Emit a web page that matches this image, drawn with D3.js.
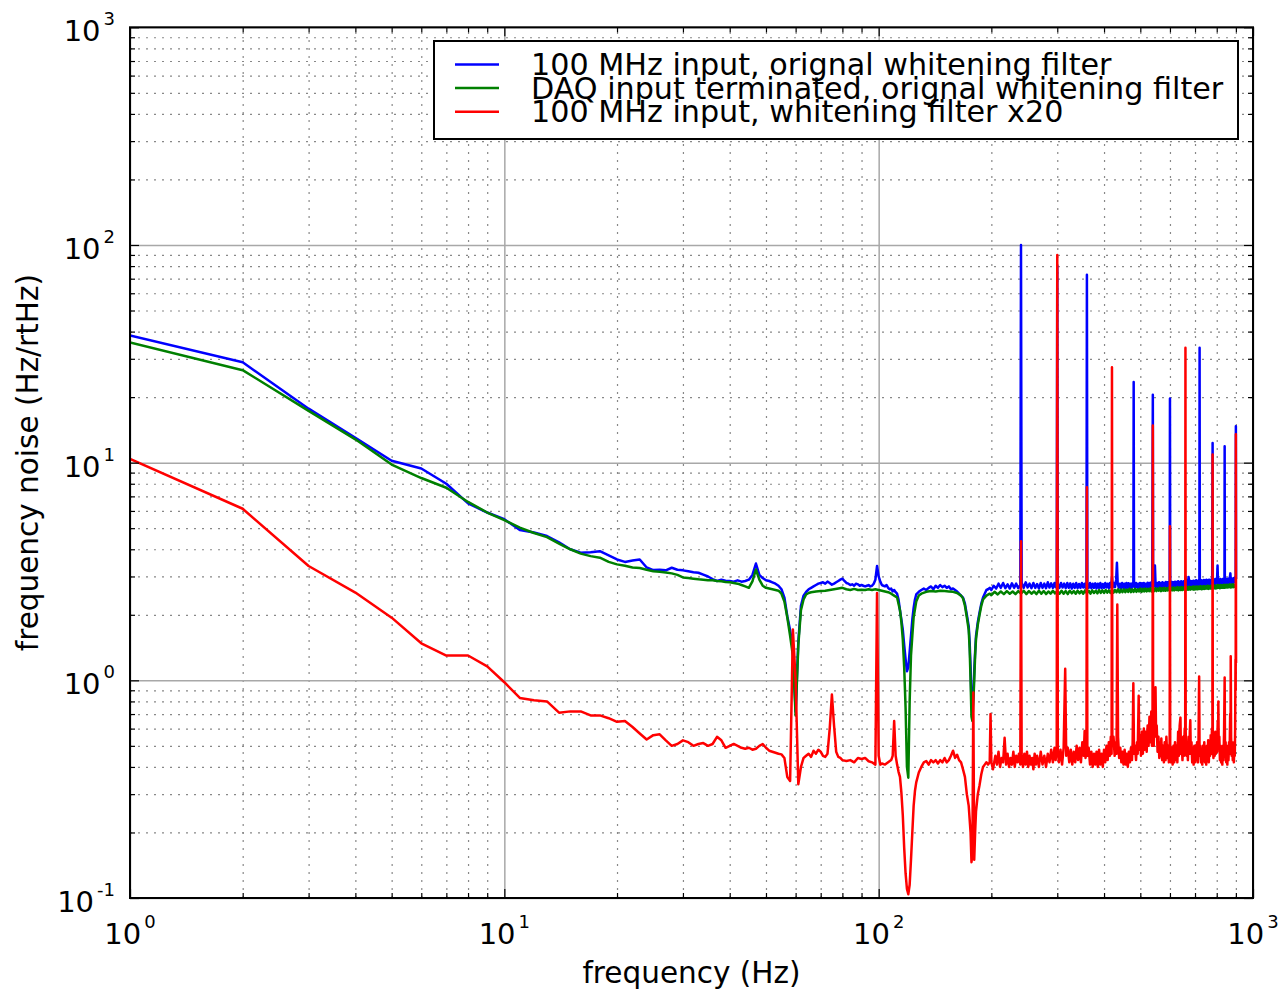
<!DOCTYPE html>
<html>
<head>
<meta charset="utf-8">
<script src="https://cdn.jsdelivr.net/npm/d3@7"></script>
<style>
  html, body { margin: 0; padding: 0; background: #ffffff; }
  svg { display: block; }
  text { font-family: "DejaVu Sans", sans-serif; fill: #000; }
</style>
</head>
<body>
<svg id="chart" width="1282" height="990"></svg>
<script>
// ---------- DATA ----------
const seriesNames = [
  "100 MHz input, orignal whitening filter",
  "DAQ input terminated, orignal whitening filter",
  "100 MHz input, whitening filter x20"
];
const seriesColors = ["#0000ff", "#008000", "#ff0000"];

const xTickExponents = [0, 1, 2, 3];
const yTickExponents = [-1, 0, 1, 2, 3];

// 100 MHz input, original whitening filter  [frequency Hz, noise Hz/rtHz]
const blueData = [
[1,38.4],[2,28.9],[3,17.7],[4,13.0],[5,10.2],[6,9.4],[7,8.0],[8,6.5],[9,5.9],[10,5.5],
[11,4.9],[12,4.78],[13,4.6],[14,4.3],[15,4.0],[16,3.86],[17,3.88],[18,3.92],[19,3.75],[20,3.59],
[21,3.5],[22,3.55],[23,3.59],[24,3.3],[25,3.21],[26,3.22],[27,3.2],[28,3.29],[29,3.22],[30,3.2],
[31,3.17],[32,3.14],[33,3.12],[34,3.06],[35,3.0],[36,2.92],[37,2.86],[38,2.9],[39,2.87],[40,2.86],
[41,2.84],[42,2.88],[43,2.84],[44,2.86],[45,2.9],[46,3.05],[47,3.44],[48,3.05],[49,2.95],[50,2.88],
[51,2.86],[52,2.82],[53,2.78],[54,2.72],[55,2.62],[56,2.4],[57,1.97],[58,1.7],[59,1.4],[60,0.72],
[61,1.5],[62,2.2],[63,2.45],[64,2.55],[65,2.62],[66,2.66],[67,2.7],[68,2.74],[69,2.78],[70,2.8],
[71,2.82],[72,2.78],[73,2.84],[74,2.8],[75,2.75],[76,2.78],[77,2.82],[78,2.86],[79,2.9],[80,2.93],
[81,2.86],[82,2.8],[83,2.78],[84,2.74],[85,2.76],[86,2.72],[87,2.78],[88,2.76],[89,2.72],[90,2.74],
[91,2.72],[92,2.7],[93,2.72],[94,2.74],[95,2.7],[96,2.72],[97,2.78],[98,2.9],[99,3.35],[100,3.0],
[101,2.84],[102,2.74],[103,2.72],[104,2.7],[105,2.74],[106,2.66],[107,2.62],[108,2.64],[109,2.56],[110,2.6],
[111,2.54],[112,2.5],[113,2.35],[114,2.1],[115,1.9],[116,1.71],[117,1.45],[118,1.25],[119,1.1],[120,1.15],
[121,1.35],[122,1.6],[123,1.9],[124,2.15],[125,2.35],[126,2.48],[128,2.55],[130,2.6],[132,2.64],[134,2.6],
[136,2.66],[138,2.7],[140,2.62],[142,2.72],[144,2.66],[146,2.74],[148,2.68],[150,2.72],[152,2.66],[154,2.7],
[156,2.62],[158,2.64],[160,2.6],[162,2.56],[164,2.5],[166,2.45],[168,2.4],[170,2.25],[172,2.0],[174,1.77],
[175,1.5],[176,1.15],[177,0.8],[178,0.7],[179,0.85],[180,1.1],[181,1.35],[182,1.6],[184,1.85],[186,2.05],
[188,2.25],[190,2.4],[192,2.5],[194,2.6],[196,2.62],[198,2.66],
[200,2.6],[203,2.72],[206,2.64],[209,2.78],[212,2.66],[215,2.8],[218,2.65],[221,2.76],[224,2.64],[227,2.79],
[230,2.66],[233,2.78],[236,2.65],[239,2.74],[240,100],[241,2.8],[244,2.66],[247,2.82],[250,2.67],[253,2.78],
[256,2.65],[259,2.8],[262,2.66],[265,2.77],[268,2.64],[271,2.8],[274,2.66],[277,2.78],[280,2.65],[283,2.82],
[286,2.67],[289,2.79],[292,2.66],[295,2.8],[297,2.68],[299,2.76],[300,80],[301,2.78],[304,2.66],[307,2.8],
[310,2.67],[313,2.78],[316,2.65],[319,2.8],[322,2.66],[325,2.79],[328,2.64],[331,2.78],[334,2.66],[337,2.8],
[340,2.65],[343,2.77],[346,2.66],[349,2.8],[352,2.67],[355,2.78],[357,2.66],[359,2.76],[360,73],[361,2.78],
[364,2.66],[367,2.8],[370,2.65],[373,2.78],[376,2.66],[379,2.79],[382,2.64],[385,2.78],[388,2.66],[391,2.8],
[394,2.65],[397,2.77],[400,2.66],[403,2.8],[406,2.67],[409,2.78],[412,2.65],[415,2.8],[418,2.67],[420,3.0],
[422,2.68],[425,2.8],[428,2.68],[431,2.9],[433,3.47],[435,2.8],[438,2.66],[441,2.78],[444,2.65],[447,2.8],
[450,2.66],[453,2.78],[456,2.64],[459,2.8],[462,2.66],[465,2.79],[468,2.65],[471,2.78],[474,2.66],[477,2.8],
[479,2.7],[480,23.5],[481,2.78],[484,2.66],[487,2.8],[490,2.67],[493,2.78],[496,2.65],[499,2.8],[502,2.66],
[505,2.79],[508,2.67],[511,2.8],[514,2.66],[517,2.78],[520,2.67],[523,2.81],[526,2.68],[529,2.8],[532,2.67],
[535,2.82],[538,2.7],[540,20.5],[541,2.8],[544,2.7],[547,3.37],[549,2.8],[552,2.68],[555,2.8],[558,2.67],
[561,2.82],[564,2.68],[567,2.8],[570,2.67],[573,2.82],[576,2.68],[579,2.8],[582,2.7],[585,2.83],[588,2.68],
[591,2.82],[594,2.7],[597,2.83],[599,2.72],[600,19.7],[601,2.8],[604,2.69],[607,2.83],[610,2.7],[613,2.82],
[616,2.69],[619,2.84],[622,2.7],[625,2.83],[628,2.71],[631,2.85],[634,2.7],[637,2.83],[640,2.71],[643,2.85],
[646,2.7],[649,2.84],[652,2.71],[655,2.86],[658,2.72],[660,3.0],[662,2.73],[665,2.86],[668,2.72],[671,2.88],
[673,2.98],[675,2.85],[678,2.72],[681,2.86],[684,2.71],[687,2.85],[690,2.72],[693,2.87],[696,2.73],[699,2.86],
[702,2.72],[705,2.88],[708,2.73],[711,2.86],[714,2.74],[717,2.88],[719,2.78],[720,33.7],[721,2.86],[724,2.73],
[727,2.88],[730,2.74],[733,2.87],[736,2.73],[739,2.89],[742,2.75],[745,2.88],[748,2.74],[751,2.9],[754,2.75],
[757,2.88],[760,2.74],[763,2.9],[766,2.76],[769,2.89],[772,2.75],[775,2.9],[778,2.78],[780,12.3],[781,2.88],
[784,2.76],[787,2.9],[790,2.77],[793,2.92],[796,2.78],[799,2.9],[802,2.95],[804,3.37],[806,2.88],[809,2.76],
[812,2.9],[815,2.77],[818,2.92],[821,2.78],[824,2.9],[827,2.77],[830,2.92],[833,2.78],[836,2.9],[839,2.8],
[840,11.9],[841,2.9],[844,2.78],[847,2.92],[850,2.79],[853,2.93],[856,2.8],[859,2.92],[862,2.8],[865,2.95],
[868,3.0],[870,3.1],[872,2.92],[875,2.8],[878,2.94],[881,2.8],[884,2.93],[887,2.81],[890,2.95],[893,2.82],
[896,2.94],[899,2.9],[900,14.7],[901,2.92]
];

// DAQ input terminated, original whitening filter
const greenData = [
[1,35.7],[2,26.6],[3,17.3],[4,12.8],[5,9.8],[6,8.5],[7,7.67],[8,6.6],[9,5.9],[10,5.45],
[11,5.03],[12,4.75],[13,4.55],[14,4.25],[15,4.0],[16,3.82],[17,3.72],[18,3.66],[19,3.5],[20,3.41],
[21,3.36],[22,3.3],[23,3.28],[24,3.22],[25,3.17],[26,3.15],[27,3.13],[28,3.1],[29,3.05],[30,2.97],
[31,2.95],[32,2.93],[33,2.91],[34,2.9],[35,2.88],[36,2.88],[37,2.86],[38,2.85],[39,2.83],[40,2.82],
[41,2.8],[42,2.78],[43,2.74],[44,2.7],[45,2.66],[46,2.85],[47,3.23],[48,2.9],[49,2.72],[50,2.66],
[51,2.64],[52,2.62],[53,2.6],[54,2.58],[55,2.5],[56,2.3],[57,1.95],[58,1.6],[59,1.3],[60,0.69],
[61,1.45],[62,2.1],[63,2.35],[64,2.48],[65,2.52],[66,2.54],[68,2.56],[70,2.57],[72,2.58],[74,2.6],
[76,2.62],[78,2.64],[80,2.66],[82,2.62],[84,2.6],[86,2.63],[88,2.6],[90,2.61],[92,2.6],[94,2.62],
[96,2.6],[98,2.62],[100,2.6],[102,2.58],[104,2.56],[106,2.54],[108,2.5],[110,2.45],[112,2.4],[114,2.1],
[115,1.85],[116,1.54],[117,1.15],[118,0.75],[119,0.4],[120,0.357],[121,0.8],[122,1.3],[123,1.6],[124,1.95],
[126,2.3],[128,2.45],[130,2.5],[134,2.55],[138,2.57],[142,2.56],[146,2.58],[150,2.57],[154,2.56],[158,2.55],
[162,2.52],[166,2.45],[168,2.38],[170,2.2],[172,1.95],[174,1.7],[175,1.4],[176,1.0],[177,0.68],[178,0.65],
[179,0.8],[180,1.0],[181,1.3],[182,1.55],[184,1.8],[186,2.0],[188,2.2],[190,2.35],[194,2.45],[198,2.5],
[200,2.46],[204,2.55],[208,2.48],[212,2.56],[216,2.49],[220,2.57],[224,2.5],[228,2.56],[232,2.49],[236,2.57],
[240,2.5],[244,2.58],[248,2.49],[252,2.57],[256,2.5],[260,2.56],[264,2.49],[268,2.58],[272,2.5],[276,2.57],
[280,2.49],[284,2.56],[288,2.5],[292,2.58],[296,2.51],[300,2.57],[304,2.5],[308,2.58],[312,2.5],[316,2.57],
[320,2.49],[324,2.58],[328,2.51],[332,2.57],[336,2.5],[340,2.58],[344,2.51],[348,2.57],[352,2.5],[356,2.59],
[360,2.51],[364,2.58],[368,2.5],[372,2.59],[376,2.52],[380,2.58],[384,2.51],[388,2.6],[392,2.52],[396,2.59],
[400,2.52],[404,2.6],[408,2.53],[412,2.59],[416,2.52],[420,2.61],[424,2.53],[428,2.6],[432,2.54],[436,2.62],
[440,2.53],[444,2.61],[448,2.54],[452,2.62],[456,2.54],[460,2.61],[464,2.55],[468,2.63],[472,2.54],[476,2.62],
[480,2.55],[484,2.63],[488,2.55],[492,2.62],[496,2.56],[500,2.64],[504,2.55],[508,2.63],[512,2.56],[516,2.64],
[520,2.56],[524,2.63],[528,2.57],[532,2.65],[536,2.56],[540,2.64],[544,2.57],[548,2.65],[552,2.57],[556,2.64],
[560,2.58],[564,2.66],[568,2.57],[572,2.65],[576,2.58],[580,2.66],[584,2.58],[588,2.65],[592,2.59],[596,2.67],
[600,2.58],[604,2.66],[608,2.59],[612,2.67],[616,2.59],[620,2.66],[624,2.6],[628,2.68],[632,2.59],[636,2.67],
[640,2.6],[644,2.68],[648,2.6],[652,2.67],[656,2.61],[660,2.69],[664,2.6],[668,2.68],[672,2.61],[676,2.69],
[680,2.61],[684,2.68],[688,2.62],[692,2.7],[696,2.61],[700,2.69],[704,2.62],[708,2.7],[712,2.62],[716,2.69],
[720,2.63],[724,2.71],[728,2.62],[732,2.7],[736,2.63],[740,2.71],[744,2.63],[748,2.7],[752,2.64],[756,2.72],
[760,2.63],[764,2.71],[768,2.64],[772,2.72],[776,2.64],[780,2.71],[784,2.65],[788,2.73],[792,2.64],[796,2.72],
[800,2.65],[804,2.74],[808,2.66],[812,2.73],[816,2.65],[820,2.74],[824,2.66],[828,2.73],[832,2.66],[836,2.75],
[840,2.66],[844,2.74],[848,2.67],[852,2.75],[856,2.67],[860,2.74],[864,2.68],[868,2.76],[872,2.67],[876,2.75],
[880,2.68],[884,2.76],[888,2.68],[892,2.75],[896,2.69],[901,2.74]
];

// 100 MHz input, whitening filter x20
const redData = [
[1,10.4],[2,6.14],[3,3.35],[4,2.53],[5,1.94],[6,1.48],[7,1.30],[8,1.30],[9,1.16],[10,0.98],
[11,0.83],[12,0.81],[13,0.80],[14,0.71],[15,0.72],[16,0.72],[17,0.69],[18,0.69],[19,0.67],[20,0.645],
[21,0.65],[22,0.61],[23,0.57],[24,0.535],[25,0.56],[26,0.565],[27,0.53],[28,0.50],[29,0.51],[30,0.53],
[31,0.52],[32,0.50],[33,0.51],[34,0.515],[35,0.50],[36,0.51],[37,0.55],[38,0.53],[39,0.49],[40,0.50],
[41,0.51],[42,0.50],[43,0.49],[44,0.485],[45,0.49],[46,0.48],[47,0.485],[48,0.50],[49,0.51],[50,0.49],
[51,0.475],[52,0.47],[53,0.465],[54,0.46],[55,0.457],[56,0.44],[57,0.36],[58,0.345],[59,1.71],[60,1.0],
[61,0.333],[62,0.4],[63,0.44],[64,0.45],[65,0.46],[66,0.445],[67,0.475],[68,0.46],[69,0.48],[70,0.47],
[71,0.45],[72,0.445],[73,0.46],[74,0.6],[75,0.86],[76,0.62],[77,0.47],[78,0.445],[79,0.44],[80,0.43],
[82,0.426],[84,0.43],[86,0.42],[88,0.44],[90,0.435],[92,0.44],[94,0.425],[96,0.42],[98,0.41],[99,2.52],
[100,0.45],[101,0.41],[102,0.415],[104,0.41],[106,0.42],[108,0.43],[109,0.45],[110,0.65],[111,0.45],[112,0.41],
[113,0.38],[114,0.36],[115,0.305],[116,0.24],[117,0.17],[118,0.13],[119,0.11],[120,0.104],[121,0.115],[122,0.15],
[123,0.2],[124,0.265],[125,0.31],[126,0.34],[128,0.377],[130,0.4],[132,0.42],[134,0.426],[136,0.41],[138,0.43],
[140,0.42],[142,0.43],[144,0.415],[146,0.43],[148,0.42],[150,0.44],[152,0.42],[154,0.43],[156,0.45],[158,0.475],
[160,0.44],[162,0.455],[164,0.43],[166,0.42],[168,0.39],[170,0.36],[172,0.3],[174,0.265],[176,0.2],[177,0.146],
[178,0.16],[179,0.88],[180,0.15],[181,0.2],[182,0.25],[184,0.3],[186,0.33],[188,0.37],[190,0.4],[192,0.41],
[194,0.42],[196,0.41],[198,0.42],[199,0.70],
[200,0.42],[202,0.39],[205,0.45],[207,0.41],[209,0.47],[211,0.40],[213,0.44],[215,0.42],[217,0.545],[219,0.41],
[221,0.46],[223,0.40],[225,0.44],[227,0.41],[229,0.47],[231,0.40],[233,0.45],[235,0.42],[237,0.46],[239,0.41],
[240,4.35],[241,0.44],[243,0.40],[245,0.46],[247,0.41],[249,0.47],[251,0.40],[253,0.45],[255,0.41],[257,0.44],
[259,0.39],[261,0.46],[263,0.41],[265,0.45],[268,0.40],[271,0.47],[274,0.41],[277,0.45],[280,0.40],[283,0.46],
[286,0.42],[289,0.48],[292,0.42],[295,0.49],[297,0.43],[299,0.5],[300,90],[301,0.47],[303,0.42],[306,0.48],
[309,0.41],[312,0.49],[315,1.13],[317,0.45],[320,0.49],[323,0.42],[326,0.48],[329,0.41],[332,0.47],[335,0.42],
[338,0.5],[341,0.43],[344,0.49],[347,0.42],[350,0.52],[353,0.45],[355,0.585],[357,0.44],[359,0.5],[360,7.7],
[361,0.45],[364,0.49],[367,0.41],[370,0.47],[373,0.40],[376,0.46],[379,0.41],[382,0.47],[385,0.40],[388,0.48],
[391,0.41],[394,0.46],[397,0.40],[400,0.48],[403,0.42],[406,0.5],[409,0.43],[412,0.52],[415,0.45],[417,0.55],
[419,0.46],[420,27.4],[421,0.5],[424,0.55],[427,0.45],[430,0.52],[432,0.46],[434,2.23],[436,0.55],[439,0.44],
[442,0.49],[445,0.42],[448,0.47],[451,0.41],[454,0.48],[457,0.41],[460,0.46],[463,0.40],[466,0.47],[469,0.42],
[472,0.49],[475,0.43],[477,0.52],[479,0.97],[481,0.46],[484,0.5],[487,0.43],[490,0.52],[492,0.46],[495,0.85],
[497,0.48],[500,0.56],[502,0.45],[505,0.58],[508,0.46],[511,0.6],[514,0.48],[517,0.58],[520,0.47],[523,0.62],
[526,0.5],[529,0.68],[532,0.52],[535,0.72],[537,0.5],[539,0.6],[540,14.8],[541,0.62],[543,0.5],[545,0.75],
[547,0.85],[549,0.93],[551,0.55],[553,0.62],[556,0.47],[559,0.55],[562,0.44],[565,0.52],[567,0.45],[569,0.54],
[572,0.43],[575,0.5],[578,0.42],[581,0.52],[584,0.43],[587,0.55],[590,0.44],[593,0.5],[596,0.42],[599,0.52],
[600,5.1],[601,0.5],[604,0.42],[607,0.49],[610,0.41],[613,0.5],[616,0.42],[619,0.52],[622,0.43],[625,0.5],
[628,0.42],[631,0.58],[634,0.45],[637,0.62],[640,0.674],[642,0.46],[645,0.52],[648,0.43],[651,0.55],[654,0.45],
[657,0.6],[659,0.5],[660,33.7],[661,0.58],[664,0.45],[667,0.52],[670,0.43],[673,0.55],[676,0.46],[678,0.58],
[680,0.655],[682,0.46],[685,0.52],[688,0.42],[691,0.49],[694,0.41],[697,0.5],[700,0.42],[703,0.5],[706,0.43],
[709,0.52],[712,0.42],[715,0.5],[718,1.04],[720,0.45],[723,0.5],[726,0.42],[729,0.48],[732,0.41],[735,0.5],
[738,0.43],[741,0.52],[744,0.42],[747,0.49],[750,0.41],[753,0.5],[756,0.43],[759,0.53],[762,0.42],[765,0.52],
[768,0.45],[771,0.56],[774,0.46],[777,0.6],[779,0.5],[780,10.9],[781,0.52],[784,0.44],[787,0.54],[790,0.45],
[793,0.58],[796,0.46],[799,0.55],[802,0.47],[805,0.65],[807,0.5],[808,0.8],[810,0.5],[813,0.55],[816,0.43],
[819,0.5],[822,0.42],[825,0.49],[828,0.41],[831,0.5],[834,0.43],[837,0.58],[840,1.03],[842,0.47],[845,0.52],
[848,0.42],[851,0.49],[854,0.41],[857,0.5],[860,0.43],[863,0.52],[866,0.46],[869,0.7],[871,0.5],[872,1.29],
[874,0.55],[877,0.45],[880,0.52],[883,0.43],[886,0.5],[889,0.42],[892,0.52],[894,0.45],[896,0.6],[898,1.25],
[899,0.9],[900,13.5],[901,1.2]
];

const allSeries = [blueData, greenData, redData];

// ---------- LAYOUT ----------
const W = 1282, H = 990;
const pLeft = 130, pRight = 1253, pTop = 27.3, pBottom = 898;

const svg = d3.select("#chart");
svg.append("rect").attr("width", W).attr("height", H).attr("fill", "#fff");

const x = d3.scaleLog().domain([1, 1000]).range([pLeft, pRight]);
const y = d3.scaleLog().domain([0.1, 1000]).range([pBottom, pTop]);

// minor / major tick values
const xMajor = xTickExponents.map(e => Math.pow(10, e));
const yMajor = yTickExponents.map(e => Math.pow(10, e));
const xMinor = [], yMinor = [];
for (let e = 0; e < 3; e++) for (let k = 2; k <= 9; k++) xMinor.push(k * Math.pow(10, e));
for (let e = -1; e < 3; e++) for (let k = 2; k <= 9; k++) yMinor.push(k * Math.pow(10, e));

// ---------- GRID ----------
const grid = svg.append("g");
grid.append("g").attr("transform", `translate(0,${pBottom})`)
  .call(d3.axisBottom(x).tickValues(xMinor).tickSize(-(pBottom - pTop)).tickFormat(""))
  .call(g => g.select(".domain").remove())
  .call(g => g.selectAll("line").attr("stroke", "#888").attr("stroke-width", 1.2).attr("stroke-dasharray", "2,6"));
grid.append("g").attr("transform", `translate(${pLeft},0)`)
  .call(d3.axisLeft(y).tickValues(yMinor).tickSize(-(pRight - pLeft)).tickFormat(""))
  .call(g => g.select(".domain").remove())
  .call(g => g.selectAll("line").attr("stroke", "#888").attr("stroke-width", 1.2).attr("stroke-dasharray", "2,6"));
grid.append("g").attr("transform", `translate(0,${pBottom})`)
  .call(d3.axisBottom(x).tickValues(xMajor).tickSize(-(pBottom - pTop)).tickFormat(""))
  .call(g => g.select(".domain").remove())
  .call(g => g.selectAll("line").attr("stroke", "#a8a8a8").attr("stroke-width", 1.5));
grid.append("g").attr("transform", `translate(${pLeft},0)`)
  .call(d3.axisLeft(y).tickValues(yMajor).tickSize(-(pRight - pLeft)).tickFormat(""))
  .call(g => g.select(".domain").remove())
  .call(g => g.selectAll("line").attr("stroke", "#a8a8a8").attr("stroke-width", 1.5));

// ---------- LINES ----------
svg.append("defs").append("clipPath").attr("id", "clip")
  .append("rect").attr("x", pLeft).attr("y", pTop).attr("width", pRight - pLeft).attr("height", pBottom - pTop);

const line = d3.line().x(d => x(d[0])).y(d => y(d[1]));
const plot = svg.append("g").attr("clip-path", "url(#clip)");
allSeries.forEach((data, i) => {
  plot.append("path").datum(data)
    .attr("d", line)
    .attr("fill", "none")
    .attr("stroke", seriesColors[i])
    .attr("stroke-width", 2.5)
    .attr("stroke-linejoin", "round");
});

// ---------- TICKS (inward, all four sides) ----------
function styleTicks(g) { g.select(".domain").remove(); g.selectAll("line").attr("stroke", "#000").attr("stroke-width", 1.2); }
const MAJ = 9, MIN = 5;
svg.append("g").attr("transform", `translate(0,${pBottom})`)
  .call(d3.axisBottom(x).tickValues(xMajor).tickSizeInner(-MAJ).tickSizeOuter(0).tickFormat("")).call(styleTicks);
svg.append("g").attr("transform", `translate(0,${pBottom})`)
  .call(d3.axisBottom(x).tickValues(xMinor).tickSizeInner(-MIN).tickSizeOuter(0).tickFormat("")).call(styleTicks);
svg.append("g").attr("transform", `translate(0,${pTop})`)
  .call(d3.axisTop(x).tickValues(xMajor).tickSizeInner(-MAJ).tickSizeOuter(0).tickFormat("")).call(styleTicks);
svg.append("g").attr("transform", `translate(0,${pTop})`)
  .call(d3.axisTop(x).tickValues(xMinor).tickSizeInner(-MIN).tickSizeOuter(0).tickFormat("")).call(styleTicks);
svg.append("g").attr("transform", `translate(${pLeft},0)`)
  .call(d3.axisLeft(y).tickValues(yMajor).tickSizeInner(-MAJ).tickSizeOuter(0).tickFormat("")).call(styleTicks);
svg.append("g").attr("transform", `translate(${pLeft},0)`)
  .call(d3.axisLeft(y).tickValues(yMinor).tickSizeInner(-MIN).tickSizeOuter(0).tickFormat("")).call(styleTicks);
svg.append("g").attr("transform", `translate(${pRight},0)`)
  .call(d3.axisRight(y).tickValues(yMajor).tickSizeInner(-MAJ).tickSizeOuter(0).tickFormat("")).call(styleTicks);
svg.append("g").attr("transform", `translate(${pRight},0)`)
  .call(d3.axisRight(y).tickValues(yMinor).tickSizeInner(-MIN).tickSizeOuter(0).tickFormat("")).call(styleTicks);

// frame
svg.append("rect").attr("x", pLeft).attr("y", pTop).attr("width", pRight - pLeft).attr("height", pBottom - pTop)
  .attr("fill", "none").attr("stroke", "#000").attr("stroke-width", 2);

// ---------- TICK LABELS ----------
const labFont = 29, supFont = 18;
function powLabel(g, exp) {
  const t = g.append("text").attr("font-size", labFont);
  t.append("tspan").text("10");
  t.append("tspan").attr("font-size", supFont).attr("dx", 3).attr("dy", -16).text(String(exp));
  return t;
}
xTickExponents.forEach(e => {
  const g = svg.append("g");
  powLabel(g, e).attr("text-anchor", "middle").attr("x", x(Math.pow(10, e))).attr("y", 944);
});
yTickExponents.forEach(e => {
  const g = svg.append("g");
  powLabel(g, e).attr("text-anchor", "end").attr("x", 115).attr("y", y(Math.pow(10, e)) + 14);
});

// ---------- AXIS LABELS ----------
svg.append("text").attr("x", (pLeft + pRight) / 2).attr("y", 983).attr("text-anchor", "middle")
  .attr("font-size", 29.5).text("frequency (Hz)");
svg.append("text").attr("transform", `translate(38,${(pTop + pBottom) / 2}) rotate(-90)`)
  .attr("text-anchor", "middle").attr("font-size", 29.5).text("frequency noise (Hz/rtHz)");

// ---------- LEGEND ----------
const lg = svg.append("g");
lg.append("rect").attr("x", 434).attr("y", 41).attr("width", 804).attr("height", 98)
  .attr("fill", "#fff").attr("stroke", "#000").attr("stroke-width", 2);
seriesNames.forEach((name, i) => {
  const yy = 64.5 + i * 23.6;
  lg.append("line").attr("x1", 455).attr("x2", 499).attr("y1", yy).attr("y2", yy)
    .attr("stroke", seriesColors[i]).attr("stroke-width", 2.5);
  lg.append("text").attr("x", 531).attr("y", yy + 10.5).attr("font-size", 30.2).text(name);
});
</script>
</body>
</html>
